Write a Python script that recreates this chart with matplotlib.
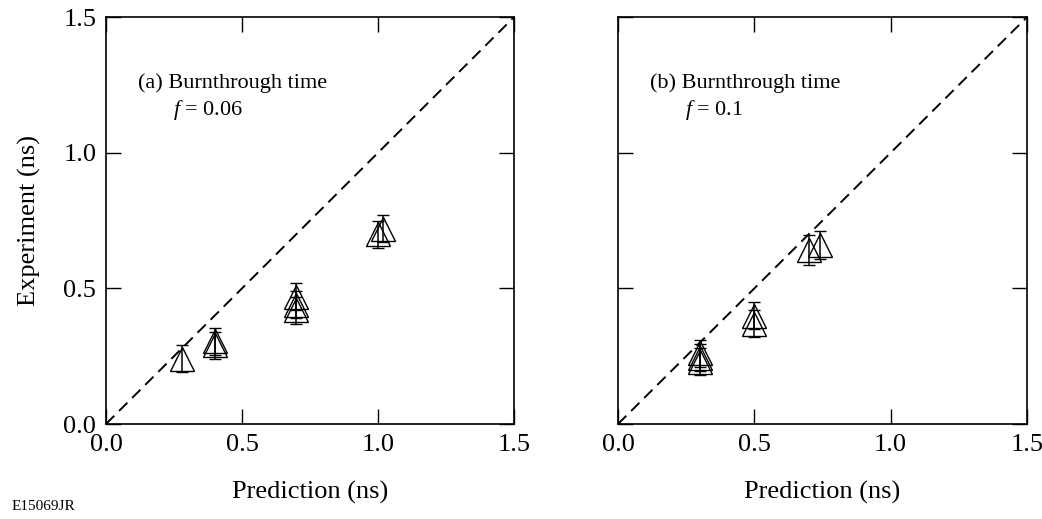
import matplotlib
matplotlib.use("Agg")
import matplotlib.pyplot as plt

plt.rcParams['font.family'] = ['Liberation Serif', 'DejaVu Serif']
plt.rcParams['mathtext.fontset'] = 'custom'
plt.rcParams['mathtext.it'] = 'Liberation Serif:italic'
plt.rcParams['mathtext.rm'] = 'Liberation Serif'

# panel (a) f = 0.06
pred_a = [0.28, 0.40, 0.40, 0.70, 0.70, 0.70, 1.00, 1.02]
exp_a = [0.24, 0.305, 0.29, 0.47, 0.44, 0.42, 0.70, 0.72]
err_a = [0.05, 0.05, 0.05, 0.05, 0.05, 0.05, 0.05, 0.05]

# panel (b) f = 0.1
pred_b = [0.30, 0.30, 0.30, 0.50, 0.50, 0.70, 0.74]
exp_b = [0.26, 0.245, 0.23, 0.40, 0.37, 0.64, 0.66]
err_b = [0.05, 0.05, 0.05, 0.05, 0.05, 0.055, 0.05]

ticks = [0.0, 0.5, 1.0, 1.5]
tick_labels = ["0.0", "0.5", "1.0", "1.5"]

fs = 19

fig = plt.figure(figsize=(10.42, 5.19), dpi=100)
ax1 = fig.add_axes([0.1017, 0.183, 0.3916, 0.784])
ax2 = fig.add_axes([0.5931, 0.183, 0.3925, 0.784])

panels = [
    (ax1, pred_a, exp_a, err_a, "(a) Burnthrough time", "$f$ = 0.06"),
    (ax2, pred_b, exp_b, err_b, "(b) Burnthrough time", "$f$ = 0.1"),
]

for ax, px, ey, er, t1, t2 in panels:
    ax.plot([0, 1.5], [0, 1.5], "--", color="black", lw=1.4, dashes=(6, 3.5))
    ax.errorbar(px, ey, yerr=er, fmt="^", ms=17, mfc="none", mec="black",
                mew=1.0, ecolor="black", elinewidth=1.1, capsize=4, capthick=1.1)
    ax.set_xlim(0, 1.5)
    ax.set_ylim(0, 1.5)
    ax.set_xticks(ticks)
    ax.set_xticklabels(tick_labels)
    ax.set_yticks(ticks)
    ax.tick_params(direction="in", length=10.5, width=1, top=True, right=True,
                   labelsize=fs, pad=7)
    for s in ax.spines.values():
        s.set_linewidth(1.2)
    ax.set_xlabel("Prediction (ns)", fontsize=fs, labelpad=18)
    ax.text(0.078, 0.825, t1, transform=ax.transAxes, fontsize=16)
    ax.text(0.165, 0.76, t2, transform=ax.transAxes, fontsize=16)

ax1.set_yticklabels(tick_labels)
ax1.set_ylabel("Experiment (ns)", fontsize=fs, labelpad=16)
ax2.set_yticklabels([])

fig.text(0.011, 0.018, "E15069JR", fontsize=11)

fig.savefig("out.png", dpi=100)
